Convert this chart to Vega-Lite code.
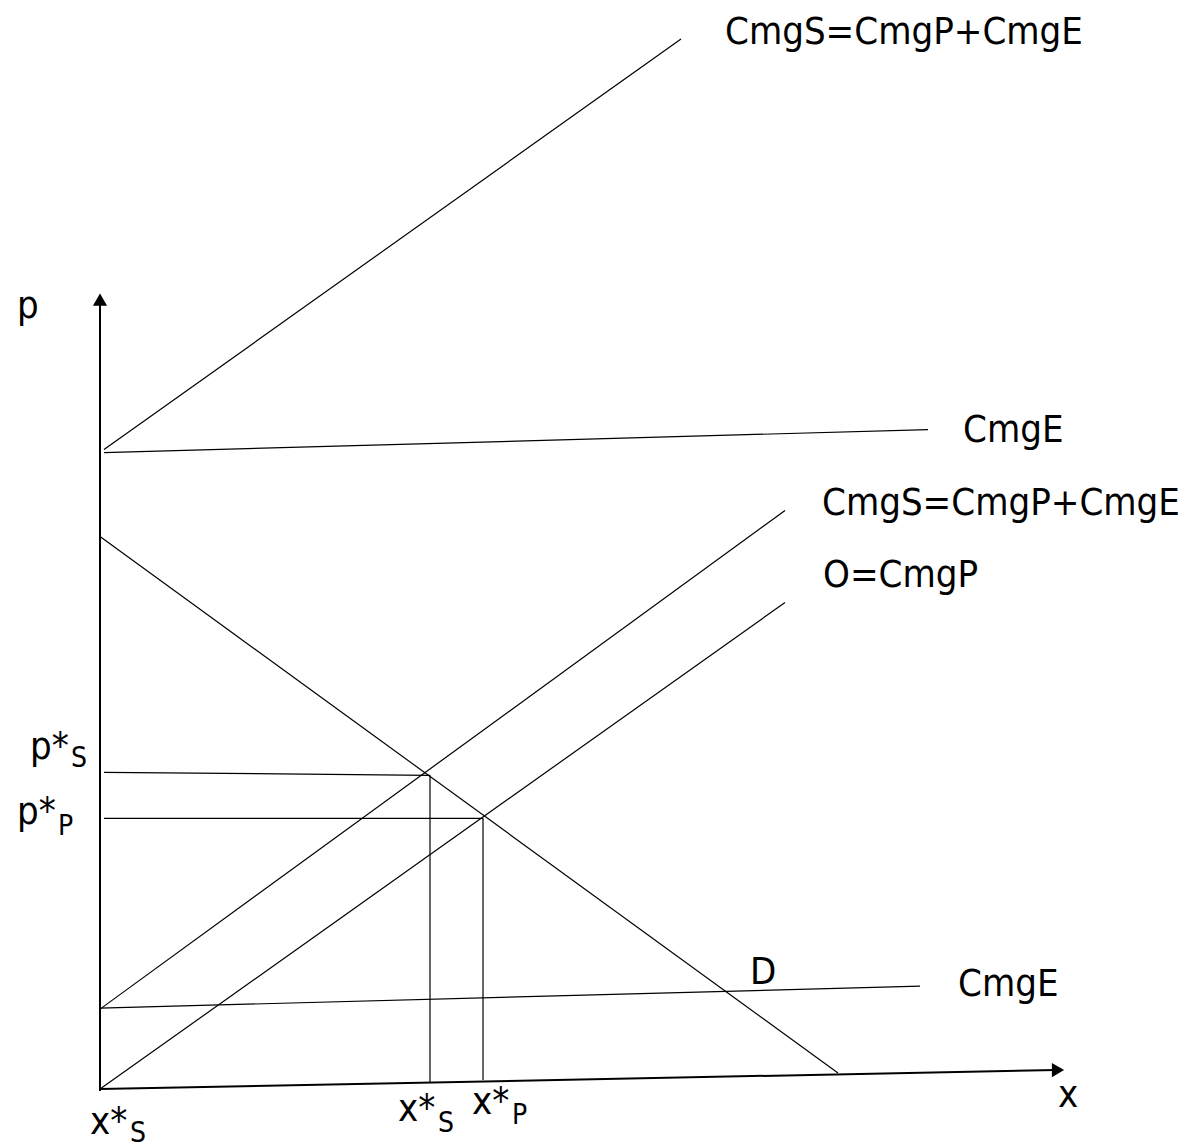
{
  "$schema": "https://vega.github.io/schema/vega-lite/v6.json",
  "width": 1188,
  "height": 1148,
  "autosize": {"type": "fit", "contains": "padding"},
  "padding": 0,
  "background": "white",
  "config": {"view": {"stroke": null}},
  "datasets": {
    "axes": [
      {"name": "p axis", "x": 100, "y": 1092, "x2": 100, "y2": 302},
      {"name": "x axis", "x": 100, "y": 1090, "x2": 1056, "y2": 1071}
    ],
    "heads": [
      {"name": "p", "x": 100, "y": 300, "dir": "up"},
      {"name": "x", "x": 1058, "y": 1071, "dir": "right"}
    ],
    "curves": [
      {"name": "CmgS upper", "x": 104, "y": 450, "x2": 681, "y2": 39},
      {"name": "CmgE upper", "x": 104, "y": 453, "x2": 928, "y2": 430},
      {"name": "D", "x": 100, "y": 537, "x2": 838, "y2": 1074},
      {"name": "CmgS lower", "x": 100, "y": 1010, "x2": 785, "y2": 511},
      {"name": "O=CmgP", "x": 100, "y": 1090, "x2": 785, "y2": 603},
      {"name": "CmgE lower", "x": 100, "y": 1009, "x2": 920, "y2": 987},
      {"name": "p*S", "x": 104, "y": 773, "x2": 430, "y2": 776},
      {"name": "p*P", "x": 104, "y": 819, "x2": 483, "y2": 819},
      {"name": "x*S", "x": 430, "y": 776, "x2": 430, "y2": 1083},
      {"name": "x*P", "x": 483, "y": 819, "x2": 483, "y2": 1081}
    ],
    "labels": [
      {"text": "CmgS=CmgP+CmgE", "x": 725, "y": 44, "role": "main"},
      {"text": "CmgE", "x": 963, "y": 442, "role": "main"},
      {"text": "CmgS=CmgP+CmgE", "x": 822, "y": 515, "role": "main"},
      {"text": "O=CmgP", "x": 823, "y": 588, "role": "main"},
      {"text": "CmgE", "x": 958, "y": 997, "role": "main"},
      {"text": "D", "x": 750, "y": 985, "role": "main"},
      {"text": "p", "x": 17, "y": 318, "role": "main"},
      {"text": "x", "x": 1058, "y": 1108, "role": "main"},
      {"text": "p*", "x": 30, "y": 760, "role": "main"},
      {"text": "S", "x": 71, "y": 768, "role": "sub"},
      {"text": "p*", "x": 17, "y": 825, "role": "main"},
      {"text": "P", "x": 58, "y": 836, "role": "sub"},
      {"text": "x*", "x": 90, "y": 1135, "role": "main"},
      {"text": "S", "x": 130, "y": 1143, "role": "sub"},
      {"text": "x*", "x": 398, "y": 1122, "role": "main"},
      {"text": "S", "x": 438, "y": 1133, "role": "sub"},
      {"text": "x*", "x": 472, "y": 1115, "role": "main"},
      {"text": "P", "x": 512, "y": 1125, "role": "sub"}
    ]
  },
  "encoding": {
    "x": {"field": "x", "type": "quantitative", "axis": null, "scale": {"domain": [0, 1188], "nice": false, "zero": false}},
    "y": {"field": "y", "type": "quantitative", "axis": null, "scale": {"domain": [0, 1148], "nice": false, "zero": false, "reverse": true}}
  },
  "layer": [
    {
      "data": {"name": "curves"},
      "mark": {"type": "rule", "color": "black", "strokeWidth": 1.2},
      "encoding": {"x2": {"field": "x2"}, "y2": {"field": "y2"}}
    },
    {
      "data": {"name": "axes"},
      "mark": {"type": "rule", "color": "black", "strokeWidth": 2},
      "encoding": {"x2": {"field": "x2"}, "y2": {"field": "y2"}}
    },
    {
      "data": {"name": "heads"},
      "mark": {"type": "point", "filled": true, "color": "black", "opacity": 1, "size": 200},
      "encoding": {
        "shape": {"field": "dir", "type": "nominal", "legend": null,
          "scale": {"domain": ["up", "right"], "range": ["triangle-up", "triangle-right"]}}
      }
    },
    {
      "data": {"name": "labels"},
      "transform": [{"filter": "datum.role === 'main'"}],
      "mark": {"type": "text", "align": "left", "baseline": "alphabetic", "font": "DejaVu Sans Condensed", "fontSize": 38, "color": "black"},
      "encoding": {"text": {"field": "text"}}
    },
    {
      "data": {"name": "labels"},
      "transform": [{"filter": "datum.role === 'sub'"}],
      "mark": {"type": "text", "align": "left", "baseline": "alphabetic", "font": "DejaVu Sans Condensed", "fontSize": 28, "color": "black"},
      "encoding": {"text": {"field": "text"}}
    }
  ]
}
